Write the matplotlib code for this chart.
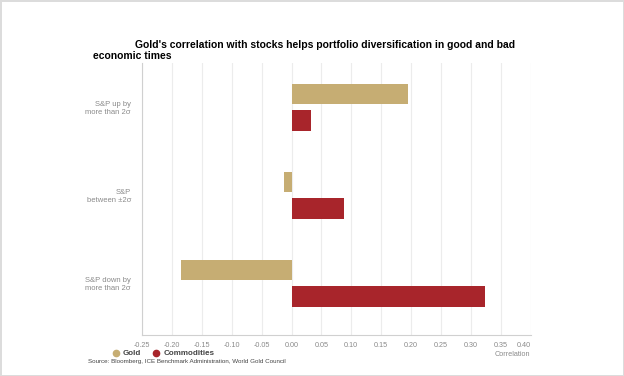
import matplotlib.pyplot as plt
import numpy as np
from matplotlib.lines import Line2D

categories = ['S&P up by\nmore than 2σ', 'S&P\nbetween ±2σ', 'S&P down by\nmore than 2σ']
gold = [0.194, -0.013, -0.185]
commodities = [0.032, 0.088, 0.324]
ticks = [-0.25, -0.20, -0.15, -0.10, -0.05, 0.00, 0.05, 0.10, 0.15, 0.20, 0.25, 0.30, 0.35, 0.40]

gold_col = '#C6AD73'
comm_col = '#A8252B'
grey = '#8a8a8a'

plt.rcParams['font.family'] = ['Liberation Sans', 'DejaVu Sans']

fig = plt.figure(figsize=(6.24, 3.76), dpi=100, edgecolor='#dcdcdc', linewidth=2)
ax = fig.add_axes([142/624, 1 - 335/376, (530.7 - 142)/624, (335 - 63)/376])

y = np.arange(len(categories))
ax.barh(y - 0.148, gold, height=0.23, color=gold_col, zorder=3)
ax.barh(y + 0.152, commodities, height=0.23, color=comm_col, zorder=3)

ax.set_xlim(-0.25, 0.40)
ax.set_ylim(2.59, -0.5)
ax.set_xticks(ticks)
ax.set_xticklabels(['%.2f' % t for t in ticks], fontsize=5.2, color=grey)
ax.get_xticklabels()[-1].set_ha('right')
ax.set_yticks(y)
ax.set_yticklabels(categories, fontsize=5.5, color=grey, ha='right')
ax.tick_params(length=0, pad=5)
ax.tick_params(axis='y', pad=8)
ax.grid(axis='x', color='#ececec', linewidth=0.8, zorder=0)
for s in ['top', 'right']:
    ax.spines[s].set_visible(False)
ax.spines['left'].set_color('#d0d0d0')
ax.spines['bottom'].set_color('#d0d0d0')

fig.text(530/624, 1 - 354/376, 'Correlation', fontsize=5.2, color=grey, ha='right', va='center')

fig.text(135/624, 1 - 45/376, "Gold's correlation with stocks helps portfolio diversification in good and bad",
         fontsize=7.5, fontweight='bold', ha='left', va='center')
fig.text(93/624, 1 - 56/376, 'economic times', fontsize=7.5, fontweight='bold', ha='left', va='center')

handles = [Line2D([], [], marker='o', ls='', color=gold_col, markersize=4.5),
           Line2D([], [], marker='o', ls='', color=comm_col, markersize=4.5)]
leg = fig.legend(handles, ['Gold', 'Commodities'], loc='center left',
                 bbox_to_anchor=(107/624, 1 - 353.5/376),
                 ncol=2, frameon=False, fontsize=5.8, handletextpad=0.4, columnspacing=1.3,
                 handlelength=1, borderpad=0.1)
for t in leg.get_texts():
    t.set_fontweight('bold')
    t.set_color('#444444')

fig.text(88/624, 1 - 361.5/376, 'Source: Bloomberg, ICE Benchmark Administration, World Gold Council',
         fontsize=4.5, color='#444444', ha='left', va='center')

fig.savefig('out.png', dpi=100, edgecolor=fig.get_edgecolor())
